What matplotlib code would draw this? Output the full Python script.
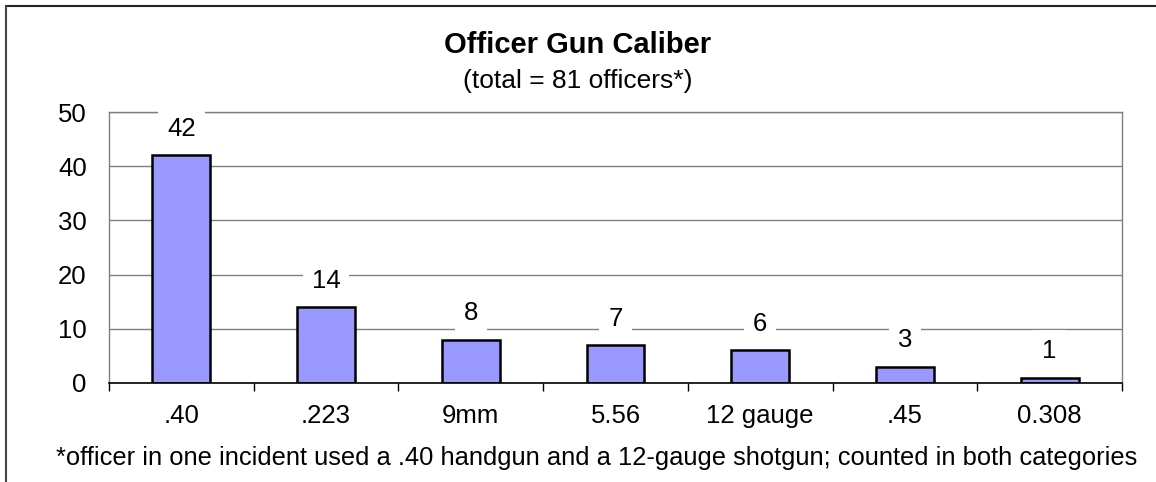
import matplotlib
matplotlib.use("Agg")
import matplotlib.pyplot as plt
from matplotlib.lines import Line2D

plt.rcParams['font.family'] = ['Liberation Sans', 'DejaVu Sans']

calibers = [".40", ".223", "9mm", "5.56", "12 gauge", ".45", "0.308"]
officers = [42, 14, 8, 7, 6, 3, 1]
y_ticks = [0, 10, 20, 30, 40, 50]

title = "Officer Gun Caliber"
subtitle = "(total = 81 officers*)"
footnote = "*officer in one incident used a .40 handgun and a 12-gauge shotgun; counted in both categories"

fig = plt.figure(figsize=(11.56, 4.82), dpi=100)
ax = fig.add_axes([109 / 1156, 1 - 383 / 482, (1122 - 109) / 1156, (383 - 112) / 482])

x = range(len(calibers))
ax.bar(x, officers, width=0.4, color="#9999ff", edgecolor="black", linewidth=1.8, zorder=3)

for i, v in zip(x, officers):
    ax.annotate(str(v), (i, v), xytext=(0, 19), textcoords="offset points",
                ha="center", va="center", fontsize=18.5, zorder=4,
                bbox=dict(boxstyle="square,pad=0.35", fc="white", ec="none"))

ax.set_xlim(-0.5, len(calibers) - 0.5)
ax.set_ylim(0, 50)
ax.set_yticks(y_ticks)
ax.set_yticklabels([str(t) for t in y_ticks], fontsize=18.5)
ax.tick_params(axis="y", length=0, pad=16)
ax.yaxis.grid(True, color="#808080", linewidth=1.0, zorder=0)

# category labels centered, tick marks at category boundaries
ax.set_xticks(list(x))
ax.set_xticklabels(calibers, fontsize=18.5)
ax.tick_params(axis="x", which="major", length=0, pad=15)
ax.set_xticks([b - 0.5 for b in range(len(calibers) + 1)], minor=True)
ax.tick_params(axis="x", which="minor", length=6, width=1.0, color="black", direction="out")

for side in ["top", "right", "left"]:
    ax.spines[side].set_color("#808080")
    ax.spines[side].set_linewidth(1.0)
ax.spines["bottom"].set_color("black")
ax.spines["bottom"].set_linewidth(1.2)
ax.spines["bottom"].set_zorder(5)

fig.text(578 / 1156, 1 - 45 / 482, title, ha="center", va="center", fontsize=21, fontweight="bold")
fig.text(578 / 1156, 1 - 81 / 482, subtitle, ha="center", va="center", fontsize=19)
fig.text(597 / 1156, 1 - 458 / 482, footnote, ha="center", va="center", fontsize=18.4)

# chart frame (top and left edges only are visible)
fig.add_artist(Line2D([6 / 1156, 1], [1 - 6 / 482, 1 - 6 / 482], color="#222222", linewidth=1.5))
fig.add_artist(Line2D([6 / 1156, 6 / 1156], [0, 1 - 6 / 482], color="#444444", linewidth=1.5))

fig.savefig("out.png", dpi=100)
